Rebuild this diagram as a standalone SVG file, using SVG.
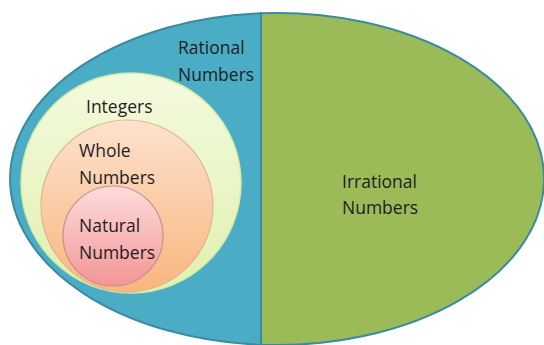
<svg xmlns="http://www.w3.org/2000/svg" width="544" height="345" viewBox="0 0 544 345">
<defs>
<linearGradient id="gInt" x1="0" y1="0" x2="0" y2="1"><stop offset="0" stop-color="#F4FADF"/><stop offset="1" stop-color="#DFF1AE"/></linearGradient>
<linearGradient id="gWhole" x1="0" y1="0" x2="0" y2="1"><stop offset="0" stop-color="#FDE2CD"/><stop offset="1" stop-color="#F8B67E"/></linearGradient>
<linearGradient id="gNat" x1="0" y1="0" x2="0" y2="1"><stop offset="0" stop-color="#FDDCDC"/><stop offset="1" stop-color="#F49595"/></linearGradient>
</defs>
<style>
text{font-family:"Open Sans","Liberation Sans",sans-serif;font-size:17.5px;fill:#1e1e1e}
.outer{stroke:#3A8BA0;stroke-width:2}
</style>
<rect width="544" height="345" fill="#ffffff"/>
<g id="rational">
<path class="outer" d="M261,13.3 A267,166 0 0 0 261,344.7 Z" fill="#4BACC6"/>
<text x="178" y="54" fill="#1c2a36">Rational</text>
<text x="178" y="80.5" fill="#1c2a36">Numbers</text>
</g>
<g id="irrational">
<path class="outer" d="M261,13.3 A267,166 0 1 1 261,344.7 Z" fill="#9BBB59"/>
<text x="342" y="188">Irrational</text>
<text x="342" y="214">Numbers</text>
</g>
<g id="integers">
<circle cx="131" cy="183" r="110" fill="url(#gInt)" stroke="#D6EBA4" stroke-width="1.5"/>
<text x="86" y="113">Integers</text>
</g>
<g id="whole">
<circle cx="127" cy="206" r="86" fill="url(#gWhole)" stroke="#E2B48E" stroke-width="1.2"/>
<text x="79" y="157">Whole</text>
<text x="79" y="184">Numbers</text>
</g>
<g id="natural">
<circle cx="113" cy="236" r="50" fill="url(#gNat)" stroke="#C98E8E" stroke-width="1.2"/>
<text x="79" y="232">Natural</text>
<text x="79" y="258.5">Numbers</text>
</g>
<g id="connectors"></g>
</svg>
